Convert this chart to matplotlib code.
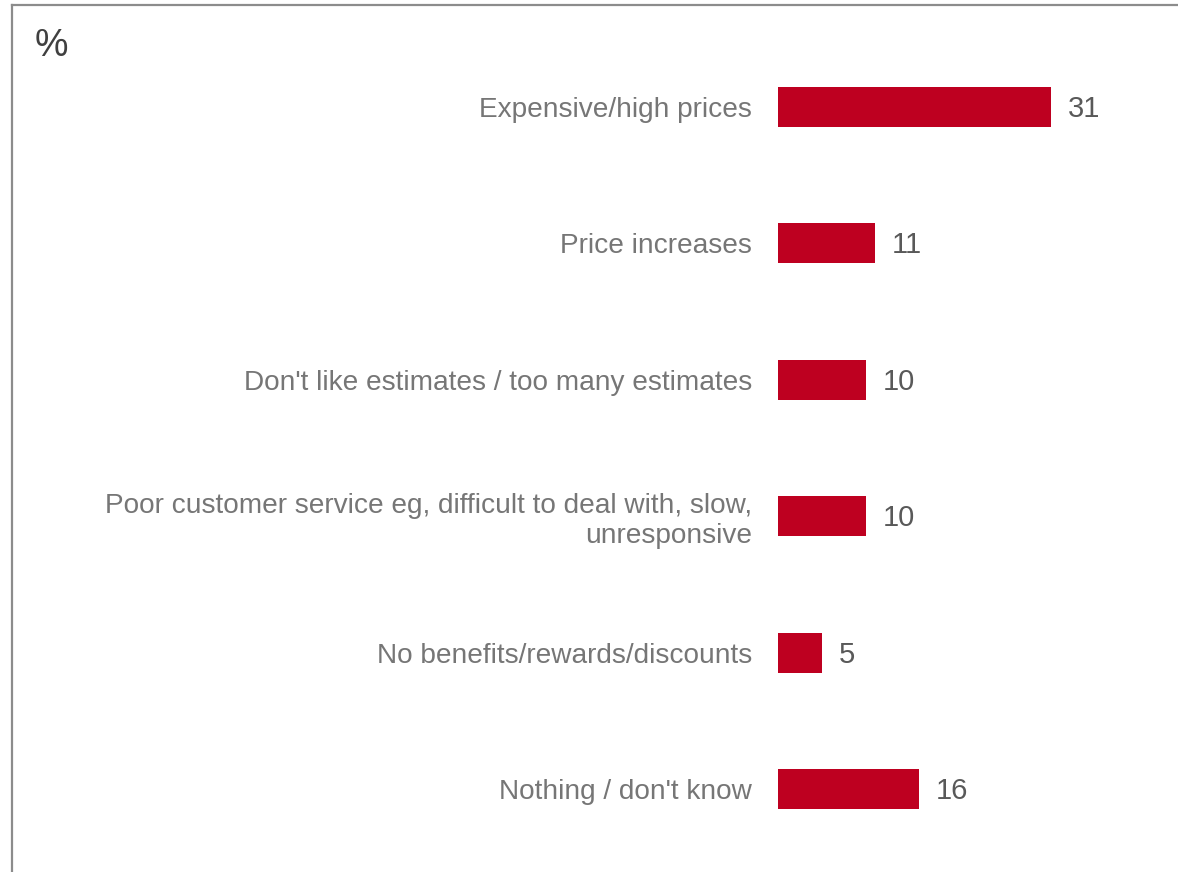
import matplotlib
matplotlib.use("Agg")
import matplotlib.pyplot as plt
from matplotlib.lines import Line2D

# Data
categories = [
    "Expensive/high prices",
    "Price increases",
    "Don't like estimates / too many estimates",
    "Poor customer service eg, difficult to deal with, slow,\nunresponsive",
    "No benefits/rewards/discounts",
    "Nothing / don't know",
]
values = [31, 11, 10, 10, 5, 16]

BAR_COLOR = "#BE0020"
LABEL_COLOR = "#767676"
VALUE_COLOR = "#595959"
BORDER_COLOR = "#8c8c8c"

plt.rcParams["font.family"] = ["Liberation Sans", "DejaVu Sans"]

W, H = 1178, 872
fig = plt.figure(figsize=(W / 100, H / 100), dpi=100)

# axes placed so the bar baseline sits at x=778 px
ax_left = 778 / W
ax = fig.add_axes([ax_left, 0.0, 1.0 - ax_left, 1.0])
px_per_unit = 8.8
ax.set_xlim(0, (W - 778) / px_per_unit)

row_px = 136.4
first_px = 107
top = -first_px / row_px
ax.set_ylim(top + H / row_px, top)

ypos = list(range(len(categories)))
ax.barh(ypos, values, height=40 / row_px, color=BAR_COLOR, linewidth=0)

for y, v in zip(ypos, values):
    ax.annotate(str(v), xy=(v, y), xytext=(12, -1.5), textcoords="offset points",
                ha="left", va="center", fontsize=21, color=VALUE_COLOR)

ax.set_yticks(ypos)
ax.set_yticklabels(categories, fontsize=20.2, color=LABEL_COLOR, ha="right")
ax.tick_params(axis="y", length=0, pad=18.7)
ax.set_xticks([])
for s in ax.spines.values():
    s.set_visible(False)
ax.patch.set_alpha(0)

fig.text(35 / W, 1 - 46 / H, "%", fontsize=27, color="#404040",
         ha="left", va="center")

# frame lines on left and top
fig.add_artist(Line2D([12 / W, 12 / W], [0, 1 - 5 / H], transform=fig.transFigure,
                      color=BORDER_COLOR, linewidth=1.6))
fig.add_artist(Line2D([12 / W, 1], [1 - 5 / H, 1 - 5 / H], transform=fig.transFigure,
                      color=BORDER_COLOR, linewidth=1.6))

fig.savefig("out.png", dpi=100)
